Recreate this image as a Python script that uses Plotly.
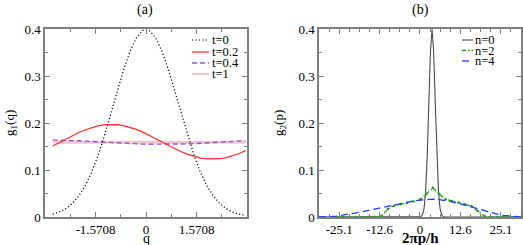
import plotly.graph_objects as go

# ---------------- data: panel (a) ----------------
q = [-2.9, -2.7, -2.5, -2.3, -2.1, -1.9, -1.7, -1.5, -1.3, -1.1, -0.9, -0.7, -0.5, -0.3, -0.1,
     0.1, 0.3, 0.5, 0.7, 0.9, 1.1, 1.3, 1.5, 1.7, 1.9, 2.1, 2.3, 2.5, 2.7, 2.9, 3.1]
g1_t0 = [0.0060, 0.0104, 0.0175, 0.0283, 0.0440, 0.0656, 0.0940, 0.1295, 0.1714, 0.2179,
         0.2661, 0.3123, 0.3521, 0.3814, 0.3970, 0.3970, 0.3814, 0.3521, 0.3123, 0.2661,
         0.2179, 0.1714, 0.1295, 0.0940, 0.0656, 0.0440, 0.0283, 0.0175, 0.0104, 0.0060, 0.0033]
g1_t02 = [0.1509, 0.1582, 0.1656, 0.1727, 0.1793, 0.1852, 0.1901, 0.1938, 0.1961, 0.1970,
          0.1964, 0.1944, 0.1909, 0.1863, 0.1806, 0.1741, 0.1670, 0.1597, 0.1523, 0.1453,
          0.1388, 0.1332, 0.1287, 0.1254, 0.1235, 0.1230, 0.1240, 0.1265, 0.1303, 0.1352, 0.1412]
g1_t04 = [0.1640, 0.1638, 0.1634, 0.1629, 0.1622, 0.1614, 0.1606, 0.1597, 0.1588, 0.1580,
          0.1572, 0.1565, 0.1559, 0.1554, 0.1551, 0.1549, 0.1548, 0.1548, 0.1549, 0.1551,
          0.1553, 0.1556, 0.1561, 0.1567, 0.1574, 0.1582, 0.1590, 0.1599, 0.1608, 0.1617, 0.1626]
g1_t1 = [0.159] * len(q)

q_tickvals = [-1.5708, 0, 1.5708]
q_ticktext = ["-1.5708", "0", "1.5708"]

# ---------------- data: panel (b) ----------------
p0 = [-31.4, -0.25, 0.25, 0.75, 1.25, 1.75, 2.25, 2.75, 3.25, 3.75, 4.25, 4.75, 5.25,
      5.75, 6.25, 6.75, 7.25, 7.75, 31.4]
g2_n0 = [0, 0, 0.0009, 0.0044, 0.0175, 0.054, 0.1295, 0.242, 0.3521, 0.399, 0.3521, 0.242,
         0.1295, 0.054, 0.0175, 0.0044, 0.0009, 0, 0]
p = [-31.4, -30, -28, -26, -24, -22, -20, -18, -16, -14, -12, -10, -8, -6, -4, -2, 0,
     2, 4, 6, 8, 10, 12, 14, 16, 18, 20, 22, 24, 26, 28, 30, 31.4]
g2_n2 = [0, 0, 0, 0, 0, 0, 0, 0, 0, 0, 0.002, 0.017, 0.024, 0.027, 0.030, 0.033, 0.037,
         0.049, 0.062, 0.049, 0.038, 0.034, 0.031, 0.027, 0.023, 0.013, 0.002, 0, 0, 0, 0, 0, 0]
g2_n4 = [0, 0, 0.0008, 0.002, 0.004, 0.006, 0.0085, 0.011, 0.014, 0.017, 0.0195, 0.022,
         0.025, 0.028, 0.031, 0.034, 0.036, 0.0375, 0.038, 0.037, 0.035, 0.032, 0.029,
         0.025, 0.0215, 0.017, 0.0125, 0.009, 0.006, 0.0035, 0.0018, 0.0005, 0]
p_tickvals = [-25.1327, -12.5664, 0, 12.5664, 25.1327]
p_ticktext = ["-25.1", "-12.6", "0", "12.6", "25.1"]

y_tickvals = [0, 0.1, 0.2, 0.3, 0.4]
y_ticktext = ["0", "0.1", "0.2", "0.3", "0.4"]

# ---------------- styles ----------------
FONT = "Liberation Serif"
AX = "#7f7f7f"
C_T0, C_T02, C_T04, C_T1 = "#000000", "#ff2a2a", "#9b4fe0", "#e9c9cc"
C_N0, C_N2, C_N4 = "#4a4a4a", "#1f9e1f", "#1f3cff"
D_DOT, D_T04, D_N2, D_N4 = "1.2px,2.2px", "5px,3px", "4px,2px,1.5px,2px", "7px,4px"

fig = go.Figure()
fig.add_trace(go.Scatter(x=q, y=g1_t1, mode="lines", line=dict(color=C_T1, width=3.2),
                         xaxis="x", yaxis="y", showlegend=False))
fig.add_trace(go.Scatter(x=q, y=g1_t04, mode="lines", line=dict(color=C_T04, width=1.4, dash=D_T04),
                         xaxis="x", yaxis="y", showlegend=False))
fig.add_trace(go.Scatter(x=q, y=g1_t02, mode="lines", line=dict(color=C_T02, width=1.2),
                         xaxis="x", yaxis="y", showlegend=False))
fig.add_trace(go.Scatter(x=q, y=g1_t0, mode="lines", line=dict(color=C_T0, width=1.2, dash=D_DOT),
                         xaxis="x", yaxis="y", showlegend=False))

fig.add_trace(go.Scatter(x=p0, y=g2_n0, mode="lines", line=dict(color=C_N0, width=1.1),
                         xaxis="x2", yaxis="y2", showlegend=False))
fig.add_trace(go.Scatter(x=p, y=g2_n2, mode="lines+markers", line=dict(color=C_N2, width=1.3, dash=D_N2),
                         marker=dict(size=2.5, color=C_N2),
                         xaxis="x2", yaxis="y2", showlegend=False))
fig.add_trace(go.Scatter(x=p, y=g2_n4, mode="lines", line=dict(color=C_N4, width=1.3, dash=D_N4),
                         xaxis="x2", yaxis="y2", showlegend=False))

common = dict(showline=True, linecolor=AX, linewidth=1.5, mirror="allticks", ticks="inside",
              ticklen=5, tickwidth=1, tickcolor=AX, showgrid=False, zeroline=False,
              tickfont=dict(family=FONT, size=13, color="black"))

fig.update_layout(
    width=523, height=245, margin=dict(l=45, r=2, t=29, b=28, autoexpand=False),
    paper_bgcolor="white", plot_bgcolor="white",
    font=dict(family=FONT, size=13, color="black"),
    xaxis=dict(domain=[0, 0.4244], anchor="y", range=[-3.1416, 3.1416],
               tickmode="array", tickvals=q_tickvals, ticktext=q_ticktext,
               minor=dict(ticks="inside", ticklen=3, tickcolor=AX, dtick=0.785398, tick0=0), **common),
    yaxis=dict(domain=[0, 1], anchor="x", range=[0, 0.4],
               tickmode="array", tickvals=y_tickvals, ticktext=y_ticktext,
               minor=dict(ticks="inside", ticklen=3, tickcolor=AX, dtick=0.05, tick0=0), **common),
    xaxis2=dict(domain=[0.5756, 1], anchor="y2", range=[-31.416, 31.416],
                tickmode="array", tickvals=p_tickvals, ticktext=p_ticktext,
                minor=dict(ticks="inside", ticklen=3, tickcolor=AX, dtick=3.14159, tick0=0), **common),
    yaxis2=dict(domain=[0, 1], anchor="x2", range=[0, 0.4],
                tickmode="array", tickvals=y_tickvals, ticktext=y_ticktext,
                minor=dict(ticks="inside", ticklen=3, tickcolor=AX, dtick=0.05, tick0=0), **common),
)


def py(v):
    return (217 - v) / 188.0


def px(v):
    return (v - 45) / 476.0


# panel titles
for txt, xx in [("(a)", 145), ("(b)", 420)]:
    fig.add_annotation(text=txt, xref="paper", yref="paper", x=px(xx), y=py(10), showarrow=False,
                       font=dict(family=FONT, size=14), xanchor="center", yanchor="middle")

# axis titles
fig.add_annotation(text="q", xref="paper", yref="paper", x=px(146), y=py(238.5), showarrow=False,
                   font=dict(family=FONT, size=14), xanchor="center", yanchor="middle", borderpad=0)
fig.add_annotation(text="<b>2πp/h</b>", xref="paper", yref="paper", x=px(420), y=py(237.5),
                   showarrow=False, font=dict(family=FONT, size=15), xanchor="center",
                   yanchor="middle", borderpad=0)
fig.add_annotation(text="g<sub>1</sub>(q)", xref="paper", yref="paper", x=px(10), y=py(123),
                   showarrow=False, textangle=-90, font=dict(family=FONT, size=13),
                   xanchor="center", yanchor="middle")
fig.add_annotation(text="g<sub>2</sub>(p)", xref="paper", yref="paper", x=px(279), y=py(123),
                   showarrow=False, textangle=-90, font=dict(family=FONT, size=13),
                   xanchor="center", yanchor="middle")

# legends drawn as small samples + text
leg_a = [("t=0", C_T0, 1.2, D_DOT, 40), ("t=0.2", C_T02, 1.2, "solid", 52),
         ("t=0.4", C_T04, 1.4, D_T04, 63), ("t=1", C_T1, 2.0, "solid", 74)]
for txt, col, w, dash, yy in leg_a:
    fig.add_shape(type="line", xref="paper", yref="paper", x0=px(192), x1=px(209),
                  y0=py(yy), y1=py(yy), line=dict(color=col, width=w, dash=dash))
    fig.add_annotation(text=txt, xref="paper", yref="paper", x=px(211), y=py(yy), showarrow=False,
                       xanchor="left", yanchor="middle", borderpad=0,
                       font=dict(family=FONT, size=12.5))

leg_b = [("n=0", C_N0, 1.1, "solid", 40), ("n=2", C_N2, 1.3, D_N2, 50.5),
         ("n=4", C_N4, 1.3, D_N4, 61)]
for txt, col, w, dash, yy in leg_b:
    fig.add_shape(type="line", xref="paper", yref="paper", x0=px(462), x1=px(473),
                  y0=py(yy), y1=py(yy), line=dict(color=col, width=w, dash=dash))
    fig.add_annotation(text=txt, xref="paper", yref="paper", x=px(474), y=py(yy), showarrow=False,
                       xanchor="left", yanchor="middle", borderpad=0,
                       font=dict(family=FONT, size=12.5))

fig.write_html("out.html", config={"displayModeBar": False},
               post_script="document.body.style.margin='0';document.body.style.overflow='hidden';")
